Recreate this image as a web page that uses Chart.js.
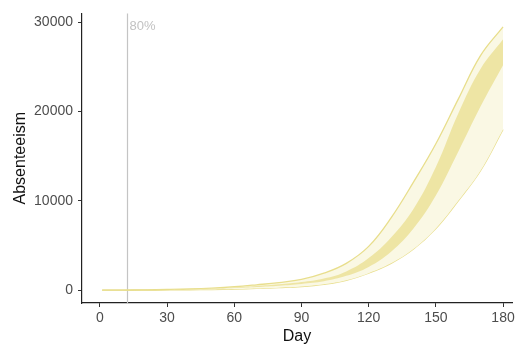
<!DOCTYPE html>
<html>
<head>
<meta charset="utf-8">
<script src="https://cdn.jsdelivr.net/npm/chart.js@4/dist/chart.umd.min.js"></script>
<style>
  html, body { margin: 0; padding: 0; background: #ffffff; }
  #wrap { width: 520px; height: 349px; }
</style>
</head>
<body>
<div id="wrap"><canvas id="c" width="520" height="349"></canvas></div>
<script>
// Simulation days and projected absenteeism envelopes
const days = [1, 10, 20, 30, 40, 50, 60, 70, 80, 90, 100, 110, 120, 130, 140, 150, 160, 170, 180];
const outerHigh = [0, 10, 30, 70, 130, 230, 380, 600, 850, 1200, 1900, 3000, 4900, 8100, 12100, 16400, 21400, 26300, 29500];
const innerHigh = [0, 5, 20, 50, 100, 180, 300, 460, 650, 900, 1300, 2100, 3600, 5900, 9100, 13800, 19800, 24800, 28100];
const innerLow  = [0, 4, 15, 40, 80, 140, 230, 350, 500, 700, 1000, 1600, 2600, 4300, 6900, 10600, 15500, 20600, 25200];
const outerLow  = [0, 2, 8, 20, 40, 70, 120, 190, 280, 400, 650, 1100, 1900, 3000, 4600, 6900, 10000, 13400, 18000];

const xTicks = [0, 30, 60, 90, 120, 150, 180];
const yTicks = [0, 10000, 20000, 30000];

// Day at which the 80% threshold is reached
const markerDay = 12;
const markerLabel = '80%';

const pts = arr => days.map((d, i) => ({ x: d, y: arr[i] }));

const FONT = "'Liberation Sans', Arial, sans-serif";

const markerPlugin = {
  id: 'marker',
  beforeDatasetsDraw(chart) {
    const { ctx, chartArea, scales } = chart;
    const x = Math.round(scales.x.getPixelForValue(markerDay)) + 0.5;
    ctx.save();
    ctx.strokeStyle = '#c4c4c4';
    ctx.lineWidth = 1.2;
    ctx.beginPath();
    ctx.moveTo(x, chartArea.top);
    ctx.lineTo(x, chartArea.bottom);
    ctx.stroke();
    ctx.fillStyle = '#c2c2c2';
    ctx.font = '13px ' + FONT;
    ctx.textBaseline = 'top';
    ctx.fillText(markerLabel, x + 2, chartArea.top + 7);
    ctx.restore();
  }
};

const lineCol = 'rgb(232,222,140)';
const smooth = { pointRadius: 0, tension: 0.4 };

new Chart(document.getElementById('c'), {
  type: 'line',
  data: {
    datasets: [
      Object.assign({ data: pts(innerHigh), borderWidth: 0, borderColor: 'rgba(0,0,0,0)', backgroundColor: 'rgb(238,229,164)', fill: '+1' }, smooth),
      Object.assign({ data: pts(innerLow), borderWidth: 0, borderColor: 'rgba(0,0,0,0)', fill: false }, smooth),
      Object.assign({ data: pts(outerHigh), borderWidth: 1.3, borderColor: lineCol, backgroundColor: 'rgb(250,248,228)', fill: '+1' }, smooth),
      Object.assign({ data: pts(outerLow), borderWidth: 1.3, borderColor: lineCol, fill: false }, smooth)
    ]
  },
  options: {
    responsive: false,
    animation: false,
    events: [],
    layout: { padding: { top: 10, right: 8, left: 0, bottom: 0 } },
    plugins: { legend: { display: false }, tooltip: { enabled: false } },
    scales: {
      x: {
        type: 'linear',
        min: -8,
        max: 184,
        afterBuildTicks: s => { s.ticks = xTicks.map(v => ({ value: v })); },
        afterFit: s => { s.height = 46; },
        grid: { display: true, drawOnChartArea: false, drawTicks: true, tickLength: 4, color: '#333', lineWidth: 1 },
        border: { display: true, color: '#222', width: 1.2 },
        ticks: { color: '#4d4d4d', font: { family: FONT, size: 14 }, padding: 3, maxRotation: 0, callback: v => String(v) },
        title: { display: true, text: 'Day', color: '#111', font: { family: FONT, size: 16 }, padding: { top: 0, bottom: 3 } }
      },
      y: {
        type: 'linear',
        min: -1440,
        max: 31000,
        afterBuildTicks: s => { s.ticks = yTicks.map(v => ({ value: v })); },
        afterFit: s => { s.width = 82; },
        grid: { display: true, drawOnChartArea: false, drawTicks: true, tickLength: 4, color: '#333', lineWidth: 1 },
        border: { display: true, color: '#222', width: 1.2 },
        ticks: { color: '#4d4d4d', font: { family: FONT, size: 14 }, padding: 5, callback: v => String(v) },
        title: { display: true, text: 'Absenteeism', color: '#111', font: { family: FONT, size: 16 }, padding: { top: 11, bottom: 0 } }
      }
    }
  },
  plugins: [markerPlugin]
});
</script>
</body>
</html>
